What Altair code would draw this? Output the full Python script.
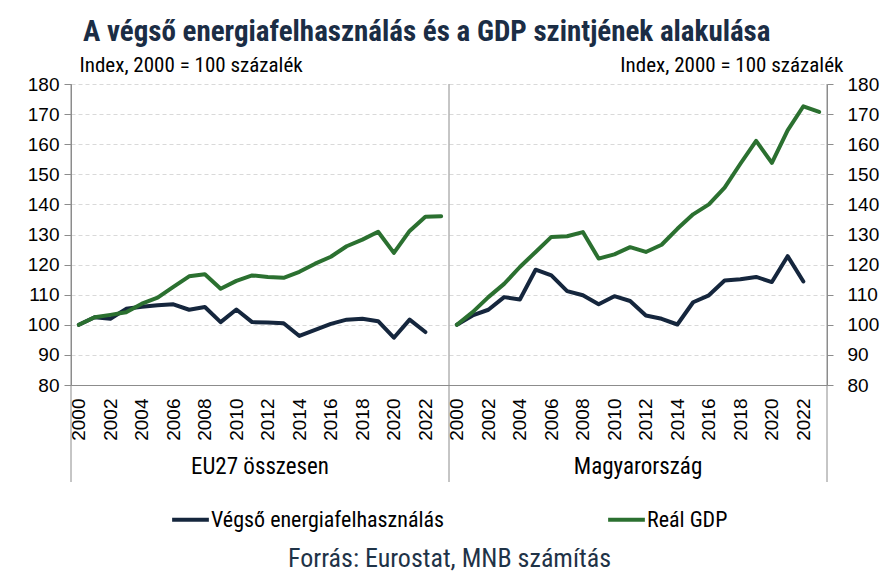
import altair as alt
import pandas as pd

years = list(range(2000, 2024))
regions = ["EU27 összesen", "Magyarország"]
series_names = ["Végső energiafelhasználás", "Reál GDP"]

eu_energy = [100, 102.5, 102, 105.3, 106, 106.5, 106.8, 105, 105.9, 100.9, 105.1, 100.9,
             100.8, 100.5, 96.3, 98.3, 100.3, 101.7, 102, 101.2, 95.7, 101.7, 97.6, None]
eu_gdp = [100, 102.5, 103.3, 104.2, 107, 109, 112.6, 116.1, 116.8, 112, 114.6, 116.4,
          115.9, 115.6, 117.6, 120.3, 122.6, 126.1, 128.3, 130.9, 123.9, 131.2, 135.9, 136.1]
hu_energy = [100, 103.1, 105, 109.2, 108.4, 118.3, 116.4, 111.2, 109.8, 106.8, 109.5, 107.9,
             103.1, 102, 100.1, 107.5, 109.8, 114.7, 115.1, 115.9, 114.2, 122.8, 114.4, None]
hu_gdp = [100, 104.2, 109.2, 113.6, 119.2, 124.2, 129.2, 129.4, 130.8, 122, 123.4, 125.8,
          124.2, 126.6, 131.9, 136.7, 140, 145.6, 153.5, 161.1, 153.8, 164.6, 172.6, 170.7]

y_ticks = [80, 90, 100, 110, 120, 130, 140, 150, 160, 170, 180]
source_text = "Forrás: Eurostat, MNB számítás"
unit_text = "Index, 2000 = 100 százalék"
title_text = "A végső energiafelhasználás és a GDP szintjének alakulása"

NAVY = "#15263d"
GREEN = "#2b7030"
GRAY = "#8c8c8c"
NARROW = "Liberation Sans Narrow, Roboto Condensed, Roboto, sans-serif"
ARIAL = "Liberation Sans, Arial, sans-serif"

n = len(years)
rows = []
for g, (reg, en, gd) in enumerate(zip(regions, [eu_energy, hu_energy], [eu_gdp, hu_gdp])):
    for i, yr in enumerate(years):
        for s, vals in zip(series_names, [en, gd]):
            if vals[i] is not None:
                rows.append({"idx": g * n + i, "year": yr, "region": reg, "series": s, "value": vals[i]})
df = pd.DataFrame(rows)

seps = pd.DataFrame({"pos": [-0.5, n - 0.5, 2 * n - 0.5]})
groups = pd.DataFrame({"pos": [(n - 1) / 2, n + (n - 1) / 2], "label": regions})

x_scale = alt.Scale(domain=[-0.5, 2 * n - 0.5], nice=False, zero=False)
y_scale = alt.Scale(domain=[80, 180], nice=False, zero=False)

x_axis = alt.Axis(
    values=list(range(0, 2 * n, 2)),
    labelExpr="'' + (2000 + datum.value % 24)",
    labelAngle=-90, labelFontSize=19, labelFont=ARIAL, labelColor="#000000",
    labelPadding=13, ticks=False, tickSize=0, grid=False,
    domainColor=GRAY, domainWidth=1,
    title=source_text, titleFont=NARROW, titleFontSize=26, titleFontWeight="normal",
    titleColor="#1f3347", titleY=173, titleBaseline="middle",
    labelOverlap=False, labelBound=False, labelFlush=False, labelSeparation=0,
)

left_axis = alt.Axis(
    values=y_ticks, labelFontSize=19, labelFont=ARIAL, labelColor="#000000", labelPadding=5,
    tickSize=7, tickColor=GRAY, domainColor=GRAY, grid=True, gridColor="#d9d9d9",
    gridDash=[4, 3], title=unit_text, titleAngle=0, titleX=8, titleY=-19,
    titleAlign="left", titleBaseline="middle", titleFont=NARROW, titleFontSize=21,
    titleFontWeight="normal", titleColor="#000000",
)
right_axis = alt.Axis(
    orient="right", values=y_ticks, labelFontSize=19, labelFont=ARIAL, labelColor="#000000",
    labelPadding=14, tickSize=6, tickColor=GRAY, domainColor=GRAY, grid=False,
    title=unit_text, titleAngle=0, titleX=16, titleY=-19, titleAlign="right",
    titleBaseline="middle", titleFont=NARROW, titleFontSize=21, titleFontWeight="normal",
    titleColor="#000000",
)

color = alt.Color(
    "series:N", sort=series_names,
    scale=alt.Scale(domain=series_names, range=[NAVY, GREEN]),
    legend=alt.Legend(
        title=None, orient="none", legendX=99, legendY=415, direction="horizontal",
        columns=2, columnPadding=155, symbolType="stroke", symbolSize=1350,
        symbolStrokeWidth=4, labelFont=NARROW, labelFontSize=22, labelColor="#000000",
        labelOffset=0, labelLimit=400,
    ),
)

X = alt.X("idx:Q", scale=x_scale, axis=x_axis)

lines = alt.Chart(df).mark_line(strokeWidth=4, strokeJoin="round", strokeCap="round").encode(
    x=X,
    y=alt.Y("value:Q", scale=y_scale, axis=left_axis),
    color=color,
    detail="region:N",
)

lines_right = alt.Chart(df).mark_line(strokeOpacity=0).encode(
    x=X,
    y=alt.Y("value:Q", scale=y_scale, axis=right_axis),
    detail="region:N",
)

sep_rules = alt.Chart(seps).mark_rule(color=GRAY, strokeWidth=1, clip=False).encode(
    x=alt.X("pos:Q", scale=x_scale, axis=x_axis),
    y=alt.value(0),
    y2=alt.value(398),
)

group_text = alt.Chart(groups).mark_text(
    font=NARROW, fontSize=23, color="#000000", baseline="middle", align="center"
).encode(
    x=alt.X("pos:Q", scale=x_scale, axis=x_axis),
    y=alt.value(383),
    text="label:N",
)

chart = alt.layer(sep_rules, lines, lines_right, group_text).resolve_axis(
    y="independent"
).properties(
    width=756, height=301,
    autosize=alt.AutoSizeParams(type="none"),
    padding={"left": 63, "top": 76, "right": 55, "bottom": 192},
    title=alt.TitleParams(
        title_text, anchor="start", frame="group", dx=12, fontSize=29, font=NARROW,
        fontWeight="bold", color="#1b2d45", offset=7,
    ),
).configure_view(stroke=None)

chart.save("out.html", embed_options={"renderer": "svg", "actions": False})
